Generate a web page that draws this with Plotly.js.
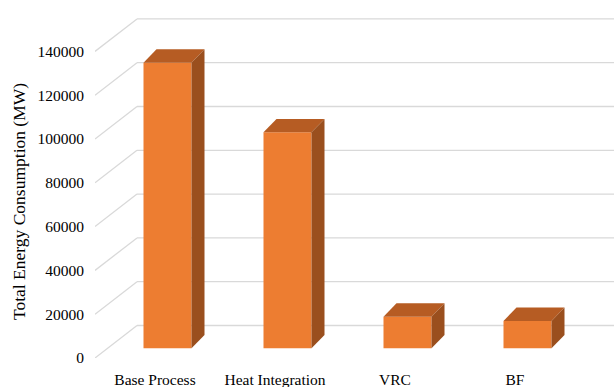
<!DOCTYPE html>
<html>
<head>
<meta charset="utf-8">
<script src="https://cdn.plot.ly/plotly-3.0.1.min.js"></script>
<style>
  html, body { margin: 0; padding: 0; background: #ffffff; }
  #chart { width: 614px; height: 387px; }
</style>
</head>
<body>
<div id="chart"></div>
<script>
// ---- data ----
const categories = ['Base Process', 'Heat Integration', 'VRC', 'BF'];
const values = [130400, 98600, 14400, 12500];
const yTickValues = [0, 20000, 40000, 60000, 80000, 100000, 120000, 140000];
const yTickLabels = ['0', '20000', '40000', '60000', '80000', '100000', '120000', '140000'];
const yTitle = 'Total Energy Consumption (MW)';

// ---- 3D projection styling (pixel offsets converted to axis units) ----
const PX_PER_CAT = 120;            // px between categories
const PX_PER_UNIT = 43.8 / 20000;  // px per data unit on y
const X_MIN = -0.5, X_MAX = (614 - 155) / PX_PER_CAT;
const Y_MAX = 358 / PX_PER_UNIT;
const px2x = p => p / PX_PER_CAT;
const px2y = p => p / PX_PER_UNIT;

const WALL_DX = px2x(42), WALL_DY = px2y(32.5);   // back wall depth
const BAR_OFF_X = px2x(12.5), BAR_BASE = px2y(9.7); // bar front plane
const BAR_DX = px2x(13), BAR_DY = px2y(13.4);      // bar depth
const BAR_W = px2x(48);

const FRONT = '#ED7D31', TOP = '#B65C23', SIDE = '#9A4F1E', GRID = '#D9D9D9';
const SERIF = 'Liberation Serif';

const xIdx = categories.map((c, i) => i);

const traces = [];
// front faces (bars)
traces.push({
  type: 'bar',
  x: xIdx.map(i => i + BAR_OFF_X),
  y: values,
  base: values.map(() => BAR_BASE),
  width: BAR_W,
  marker: { color: FRONT, line: { width: 0 } },
  hoverinfo: 'skip',
  showlegend: false
});
// top and side faces
values.forEach((v, i) => {
  const xl = i + BAR_OFF_X - BAR_W / 2, xr = i + BAR_OFF_X + BAR_W / 2;
  const b = BAR_BASE;
  traces.push({
    type: 'scatter', mode: 'lines', fill: 'toself', fillcolor: TOP,
    x: [xl, xr, xr + BAR_DX, xl + BAR_DX, xl],
    y: [v + b, v + b, v + b + BAR_DY, v + b + BAR_DY, v + b],
    line: { width: 0, color: TOP }, hoverinfo: 'skip', showlegend: false
  });
  traces.push({
    type: 'scatter', mode: 'lines', fill: 'toself', fillcolor: SIDE,
    x: [xr, xr + BAR_DX, xr + BAR_DX, xr, xr],
    y: [b, b + BAR_DY, v + b + BAR_DY, v + b, b],
    line: { width: 0, color: SIDE }, hoverinfo: 'skip', showlegend: false
  });
});

// gridlines: side-wall diagonals + back-wall horizontals
const shapes = [];
yTickValues.forEach(v => {
  shapes.push({ type: 'line', layer: 'below', xref: 'x', yref: 'y',
    x0: X_MIN, y0: v, x1: X_MIN + WALL_DX, y1: v + WALL_DY,
    line: { color: GRID, width: 1.3 } });
  shapes.push({ type: 'line', layer: 'below', xref: 'x', yref: 'y',
    x0: X_MIN + WALL_DX, y0: v + WALL_DY, x1: X_MAX, y1: v + WALL_DY,
    line: { color: GRID, width: 1.3 } });
});

const layout = {
  width: 614, height: 387,
  margin: { l: 95, r: 0, t: 0, b: 29, pad: 0 },
  paper_bgcolor: '#ffffff', plot_bgcolor: '#ffffff',
  font: { family: SERIF, color: '#000000', size: 15.5 },
  showlegend: false,
  xaxis: {
    range: [X_MIN, X_MAX], fixedrange: true,
    tickmode: 'array', tickvals: xIdx, ticktext: categories,
    showgrid: false, zeroline: false, showline: false, ticks: '',
    ticklabelstandoff: 10,
    tickfont: { size: 15.5, family: SERIF, color: '#000' }
  },
  yaxis: {
    range: [0, Y_MAX], fixedrange: true,
    tickmode: 'array', tickvals: yTickValues, ticktext: yTickLabels,
    showgrid: false, zeroline: false, showline: false, ticks: '',
    ticklabelstandoff: 10,
    tickfont: { size: 15.5, family: SERIF, color: '#000' }
  },
  annotations: [{
    text: yTitle, textangle: -90, showarrow: false,
    xref: 'paper', yref: 'paper', x: 0, xshift: -76,
    y: (358 - 202) / 358, xanchor: 'center', yanchor: 'middle',
    font: { size: 17.5, family: SERIF, color: '#000' }
  }],
  shapes: shapes
};

Plotly.newPlot('chart', traces, layout, { displayModeBar: false, staticPlot: true });
</script>
</body>
</html>
